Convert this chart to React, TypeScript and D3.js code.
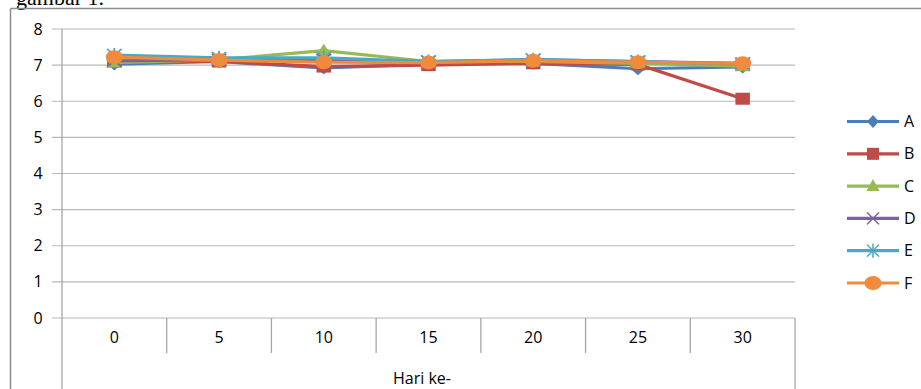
import React from "react";
import * as d3 from "d3";

const categories = ["0", "5", "10", "15", "20", "25", "30"];
const seriesNames = ["A", "B", "C", "D", "E", "F"];
const valuesA = [7.03, 7.1, 6.92, 7.03, 7.05, 6.9, 6.95];
const valuesB = [7.1, 7.1, 6.96, 7.0, 7.05, 7.02, 6.07];
const valuesC = [7.07, 7.15, 7.4, 7.1, 7.1, 7.05, 6.97];
const valuesD = [7.12, 7.15, 7.15, 7.1, 7.15, 7.1, 7.05];
const valuesE = [7.28, 7.2, 7.2, 7.1, 7.15, 7.1, 7.02];
const valuesF = [7.22, 7.14, 7.08, 7.07, 7.12, 7.08, 7.05];
const yTicks = [0, 1, 2, 3, 4, 5, 6, 7, 8];
const xTitle = "Hari ke-";
const caption = "gambar 1.";

const allValues = [valuesA, valuesB, valuesC, valuesD, valuesE, valuesF];
const colors = ["#4a7ebb", "#be4b48", "#98b954", "#7d60a0", "#46aac5", "#f08a3c"];
const shapes = ["diamond", "square", "triangle", "x", "star", "circle"];

const FONT = "'Open Sans', 'Noto Sans', sans-serif";

function Marker({ shape, color, x, y, sx = 1.45 }: any) {
  const t = `translate(${x},${y}) scale(${sx},1)`;
  if (shape === "diamond")
    return <path transform={t} d="M0,-6.5L5,0L0,6.5L-5,0Z" fill={color} />;
  if (shape === "square")
    return <rect transform={t} x={-5} y={-6} width={10} height={12} fill={color} />;
  if (shape === "triangle")
    return <path transform={t} d="M0,-7L5.5,5L-5.5,5Z" fill={color} />;
  if (shape === "x")
    return (
      <g transform={t} stroke={color} strokeWidth={1.3}>
        <line x1={-5} y1={-6} x2={5} y2={6} />
        <line x1={-5} y1={6} x2={5} y2={-6} />
      </g>
    );
  if (shape === "star")
    return (
      <g transform={t} stroke={color} strokeWidth={1.3}>
        <line x1={-5} y1={-6} x2={5} y2={6} />
        <line x1={-5} y1={6} x2={5} y2={-6} />
        <line x1={0} y1={-7} x2={0} y2={7} />
      </g>
    );
  return <ellipse cx={x} cy={y} rx={8.5} ry={7} fill={color} />;
}

export default function App() {
  const W = 921, H = 389;
  const x = d3.scaleBand().domain(categories).range([62, 795]).padding(0);
  const y = d3.scaleLinear().domain([0, 8]).range([318, 29]);
  const cx = (c: string) => (x(c) as number) + x.bandwidth() / 2;
  const line = d3
    .line<number>()
    .x((_, i) => cx(categories[i]))
    .y((d) => y(d));
  const legendY = d3.scalePoint().domain(seriesNames).range([121.5, 283]);

  return (
    <svg
      width={W}
      height={H}
      style={{ position: "absolute", left: 0, top: 0, background: "#fff" }}
    >
      <text x={16} y={5} fontFamily="'Liberation Serif', serif" fontSize={22} fill="#000">
        {caption}
      </text>
      {/* outer frame */}
      <line x1={10.5} y1={8.5} x2={10.5} y2={H} stroke="#8c8c8c" strokeWidth={1.5} />
      <line x1={10.5} y1={8.5} x2={W} y2={8.5} stroke="#8c8c8c" strokeWidth={1.5} />

      {/* gridlines */}
      {yTicks.map((t) => (
        <g key={t}>
          <line x1={52} x2={795} y1={y(t)} y2={y(t)} stroke="#b8b8b8" strokeWidth={1.2} />
          <text
            x={38}
            y={y(t)}
            dy="0.35em"
            textAnchor="middle"
            fontFamily={FONT}
            fontSize={16}
            fill="#000"
          >
            {t}
          </text>
        </g>
      ))}
      {/* y axis */}
      <line x1={62} x2={62} y1={29} y2={H} stroke="#a6a6a6" strokeWidth={1.3} />
      {/* category separators */}
      {categories.map((c, i) => (
        <line
          key={c}
          x1={(x(c) as number) + x.bandwidth()}
          x2={(x(c) as number) + x.bandwidth()}
          y1={318}
          y2={i === categories.length - 1 ? H : 353}
          stroke="#a6a6a6"
          strokeWidth={1.3}
        />
      ))}
      {categories.map((c) => (
        <text
          key={c}
          x={cx(c)}
          y={343}
          textAnchor="middle"
          fontFamily={FONT}
          fontSize={16}
          fill="#000"
        >
          {c}
        </text>
      ))}
      <text x={422} y={384} textAnchor="middle" fontFamily={FONT} fontSize={16} fill="#000">
        {xTitle}
      </text>

      {/* series */}
      {allValues.map((vals, si) => (
        <g key={si}>
          <path d={line(vals) || ""} fill="none" stroke={colors[si]} strokeWidth={3.2} />
          {vals.map((v, i) => (
            <Marker key={i} shape={shapes[si]} color={colors[si]} x={cx(categories[i])} y={y(v)} />
          ))}
        </g>
      ))}

      {/* legend */}
      {seriesNames.map((n, si) => {
        const ly = legendY(n) as number;
        return (
          <g key={n}>
            <line x1={847} x2={899} y1={ly} y2={ly} stroke={colors[si]} strokeWidth={3.2} />
            <Marker shape={shapes[si]} color={colors[si]} x={873} y={ly} sx={1.2} />
            <text x={904} y={ly} dy="0.35em" fontFamily={FONT} fontSize={16} fill="#000">
              {n}
            </text>
          </g>
        );
      })}
    </svg>
  );
}
